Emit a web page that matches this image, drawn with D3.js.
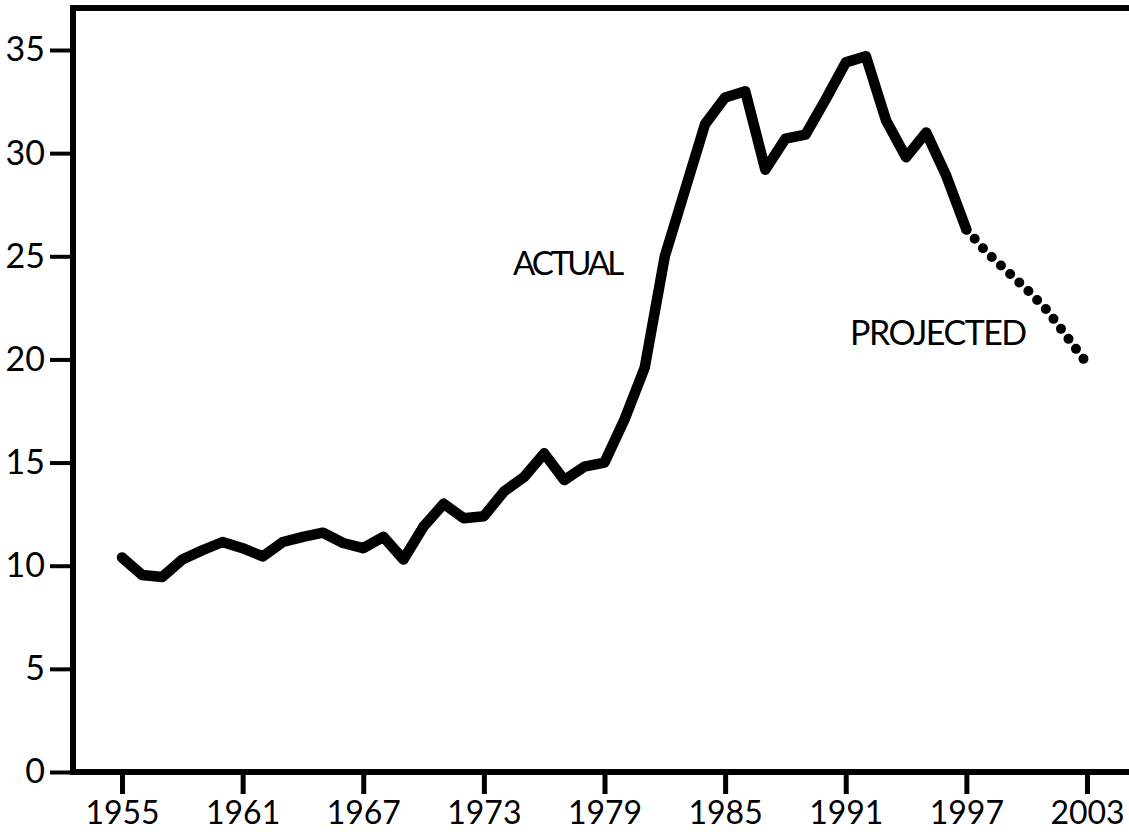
<!DOCTYPE html>
<html>
<head>
<meta charset="utf-8">
<script src="https://cdn.jsdelivr.net/npm/d3@7"></script>
<style>
  body { margin: 0; background: #fff; }
  svg { display: block; }
  text { font-family: Lato, "Open Sans", sans-serif; fill: #000; }
</style>
</head>
<body>
<div id="container"></div>
<script>
// data
let actualYears = [1955,1956,1957,1958,1959,1960,1961,1962,1963,1964,1965,1966,1967,1968,1969,1970,1971,1972,1973,1974,1975,1976,1977,1978,1979,1980,1981,1982,1983,1984,1985,1986,1987,1988,1989,1990,1991,1992,1993,1994,1995,1996,1997];
let actualValues = [10.4,9.55,9.45,10.3,10.75,11.15,10.85,10.45,11.15,11.4,11.6,11.1,10.85,11.4,10.3,11.9,13.0,12.3,12.4,13.6,14.3,15.45,14.15,14.8,15.0,17.1,19.6,25.0,28.2,31.4,32.7,33.0,29.2,30.7,30.9,32.6,34.4,34.7,31.6,29.8,31.0,28.9,26.3];
let projYears = [1997,1998,1999,2000,2001,2002,2003];
let projValues = [26.3,25.2,24.3,23.4,22.4,21.1,19.8];
let xTicks = [1955,1961,1967,1973,1979,1985,1991,1997,2003];
let yTicks = [0,5,10,15,20,25,30,35];

let w = 1129;
let h = 834;

let viz = d3.select("#container")
  .append("svg")
    .attr("width", w)
    .attr("height", h);

let xScale = d3.scaleLinear().domain([1955, 2003]).range([122, 1087]);
let yScale = d3.scaleLinear().domain([0, 35]).range([772, 50]);

// frame: top line, left axis, bottom axis
viz.append("line")
  .attr("x1", 70).attr("x2", w)
  .attr("y1", 8).attr("y2", 8)
  .attr("stroke", "#000").attr("stroke-width", 6);
viz.append("line")
  .attr("x1", 73).attr("x2", 73)
  .attr("y1", 5).attr("y2", 775)
  .attr("stroke", "#000").attr("stroke-width", 6);
viz.append("line")
  .attr("x1", 70).attr("x2", w)
  .attr("y1", 772).attr("y2", 772)
  .attr("stroke", "#000").attr("stroke-width", 6);

// y axis ticks + labels
let yAxis = d3.axisLeft(yScale).tickValues(yTicks).tickSize(22).tickPadding(5);
let yAxisGroup = viz.append("g").attr("class", "yaxis")
  .attr("transform", "translate(72,0)")
  .call(yAxis);
yAxisGroup.select(".domain").remove();
yAxisGroup.selectAll(".tick line").attr("stroke", "#000").attr("stroke-width", 4);
yAxisGroup.selectAll(".tick text")
  .attr("font-size", 34)
  .attr("font-family", "Lato, sans-serif")
  .attr("fill", "#000");

// x axis ticks + labels
let xAxis = d3.axisBottom(xScale).tickValues(xTicks).tickFormat(d3.format("d")).tickSize(22).tickPadding(7);
let xAxisGroup = viz.append("g").attr("class", "xaxis")
  .attr("transform", "translate(0,772)")
  .call(xAxis);
xAxisGroup.select(".domain").remove();
xAxisGroup.selectAll(".tick line").attr("stroke", "#000").attr("stroke-width", 5);
xAxisGroup.selectAll(".tick text")
  .attr("font-size", 32)
  .attr("font-family", "Lato, sans-serif")
  .attr("fill", "#000");

let line = d3.line()
  .x(function(d){ return xScale(d[0]); })
  .y(function(d){ return yScale(d[1]); });

// actual
viz.append("path")
  .datum(d3.zip(actualYears, actualValues))
  .attr("d", line)
  .attr("fill", "none")
  .attr("stroke", "#000")
  .attr("stroke-width", 10.5)
  .attr("stroke-linejoin", "round")
  .attr("stroke-linecap", "round");

// projected, dotted
viz.append("path")
  .datum(d3.zip(projYears, projValues))
  .attr("d", line)
  .attr("fill", "none")
  .attr("stroke", "#000")
  .attr("stroke-width", 10)
  .attr("stroke-linecap", "round")
  .attr("stroke-dasharray", "0 12.5");

// labels
viz.append("text")
  .text("ACTUAL")
  .attr("x", 513).attr("y", 275)
  .attr("font-size", 33)
  .attr("letter-spacing", -3);
viz.append("text")
  .text("PROJECTED")
  .attr("x", 850).attr("y", 345)
  .attr("font-size", 34)
  .attr("letter-spacing", -1.5);
</script>
</body>
</html>
